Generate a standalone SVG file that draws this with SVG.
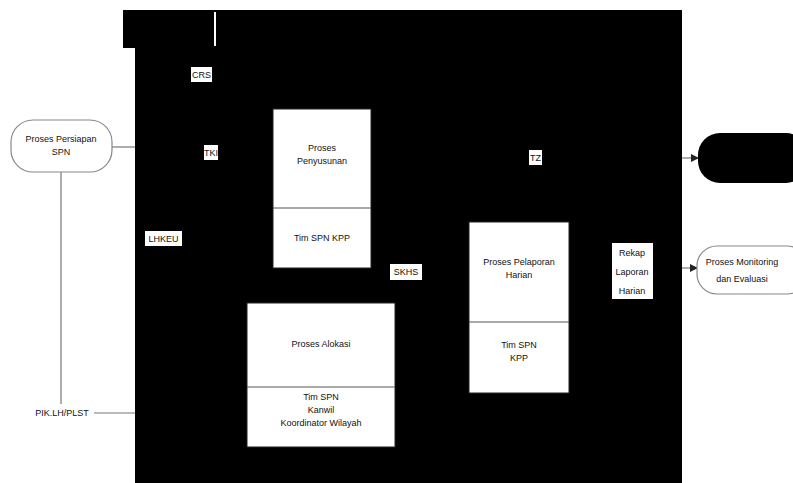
<svg xmlns="http://www.w3.org/2000/svg" width="793" height="483" viewBox="0 0 793 483">
<style>
text{font-family:"Liberation Sans",Arial,sans-serif;font-size:9px;fill:#111;text-anchor:middle}
.box{fill:#fff;stroke:#222;stroke-width:1}
.lbl{fill:#fff;stroke:none}
.ln{fill:none;stroke:#777;stroke-width:1.2}
.wt{fill:none;stroke:#fff;stroke-width:2}
</style>
<defs>
<marker id="ah" markerWidth="8" markerHeight="8" refX="7" refY="4" orient="auto" markerUnits="userSpaceOnUse">
<path d="M0,0 L8,4 L0,8 z" fill="#222"/>
</marker>
</defs>
<rect width="793" height="483" fill="#fff"/>
<g id="background">
<path d="M123,10 H682 V483 H135 V48 H123 Z" fill="#000"/>
<line class="wt" x1="215" y1="12" x2="215" y2="46"/>
</g>
<g id="connectors">
<line class="ln" x1="112" y1="147" x2="135" y2="147"/>
<line class="ln" x1="61" y1="172" x2="61" y2="404"/>
<line class="ln" x1="94" y1="413" x2="135" y2="413"/>
<line stroke="#777" stroke-width="1.2" x1="682" y1="158" x2="698" y2="158" marker-end="url(#ah)"/>
<line stroke="#777" stroke-width="1.2" x1="682" y1="268" x2="697" y2="268" marker-end="url(#ah)"/>
</g>
<g id="node-persiapan">
<rect x="11" y="120" width="101" height="52" rx="22" fill="#fff" stroke="#888" stroke-width="1.2"/>
<text x="61" y="142">Proses Persiapan</text>
<text x="61" y="155">SPN</text>
</g>
<g id="node-pik">
<text x="62" y="416">PIK.LH/PLST</text>
</g>
<g id="node-penyusunan">
<rect class="box" x="273" y="109" width="98" height="159"/>
<line x1="273" y1="208" x2="371" y2="208" stroke="#555"/>
<text x="322" y="151">Proses</text>
<text x="322" y="164">Penyusunan</text>
<text x="322" y="241">Tim SPN KPP</text>
</g>
<g id="node-alokasi">
<rect class="box" x="247" y="303" width="148" height="144"/>
<line x1="247" y1="387" x2="395" y2="387" stroke="#555"/>
<text x="321" y="347">Proses Alokasi</text>
<text x="321" y="400">Tim SPN</text>
<text x="321" y="413">Kanwil</text>
<text x="321" y="426">Koordinator Wilayah</text>
</g>
<g id="node-pelaporan">
<rect class="box" x="469" y="222" width="100" height="171"/>
<line x1="469" y1="322" x2="569" y2="322" stroke="#555"/>
<text x="519" y="265">Proses Pelaporan</text>
<text x="519" y="278">Harian</text>
<text x="519" y="348">Tim SPN</text>
<text x="519" y="361">KPP</text>
</g>
<g id="node-rekap">
<rect class="lbl" x="612" y="243" width="41" height="56"/>
<text x="632" y="256">Rekap</text>
<text x="632" y="275">Laporan</text>
<text x="632" y="294">Harian</text>
</g>
<g id="node-end">
<rect x="698" y="133" width="110" height="50" rx="22" fill="#000"/>
</g>
<g id="node-monev">
<rect x="697" y="246" width="110" height="48" rx="20" fill="#fff" stroke="#888" stroke-width="1.2"/>
<text x="742" y="265">Proses Monitoring</text>
<text x="742" y="282">dan Evaluasi</text>
</g>
<g id="labels">
<rect class="lbl" x="191" y="67" width="21" height="15"/>
<text x="201.5" y="78" font-size="8">CRS</text>
<rect class="lbl" x="204" y="145" width="14" height="15"/>
<text x="211" y="156" font-size="8">TKI</text>
<rect class="lbl" x="145" y="231" width="37" height="15"/>
<text x="163.5" y="242" font-size="8">LHKEU</text>
<rect class="lbl" x="390" y="264" width="32" height="16"/>
<text x="406" y="275" font-size="8">SKHS</text>
<rect class="lbl" x="529" y="150" width="13" height="15"/>
<text x="535.5" y="161" font-size="8">TZ</text>
</g>
</svg>
